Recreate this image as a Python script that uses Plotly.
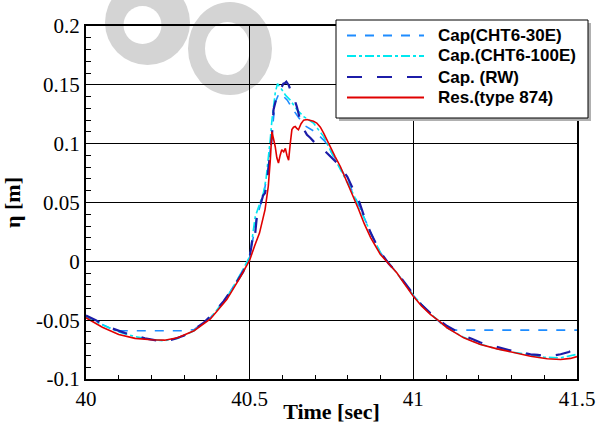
import plotly.graph_objects as go

# ---------------- data ----------------
t_res = [40.00, 40.05, 40.10, 40.15, 40.20, 40.24, 40.28, 40.33, 40.38, 40.43, 40.47, 40.50,
         40.515, 40.53, 40.547, 40.557, 40.563, 40.568, 40.573, 40.578, 40.583, 40.588, 40.593,
         40.598, 40.604, 40.609, 40.614, 40.619, 40.624, 40.629, 40.634, 40.639, 40.644, 40.649,
         40.657, 40.665, 40.675, 40.685, 40.695, 40.705, 40.716, 40.726, 40.736, 40.746, 40.761,
         40.777, 40.792, 40.807, 40.82, 40.833, 40.85, 40.87, 40.899, 40.925, 40.95, 40.975,
         41.00, 41.025, 41.052, 41.08, 41.103, 41.13, 41.154, 41.18, 41.205, 41.256, 41.307,
         41.358, 41.409, 41.45, 41.48, 41.50]
eta_res = [-0.048, -0.056, -0.0622, -0.0655, -0.0667, -0.067, -0.065, -0.059, -0.049, -0.0325,
           -0.014, 0.001, 0.013, 0.024, 0.044, 0.064, 0.086, 0.110, 0.104, 0.0976, 0.088, 0.0835,
           0.090, 0.0948, 0.093, 0.096, 0.090, 0.086, 0.100, 0.112, 0.114, 0.1146, 0.113, 0.1118,
           0.117, 0.120, 0.1205, 0.120, 0.119, 0.1175, 0.114, 0.109, 0.103, 0.0976, 0.089, 0.0806,
           0.071, 0.061, 0.052, 0.044, 0.032, 0.020, 0.006, -0.002, -0.0099, -0.020, -0.0297,
           -0.038, -0.045, -0.051, -0.0565, -0.061, -0.065, -0.068, -0.0707, -0.0744, -0.0778,
           -0.0806, -0.0828, -0.0834, -0.0825, -0.081]

t_rw = [40.00, 40.03, 40.06, 40.09, 40.12, 40.15, 40.18, 40.21, 40.24, 40.27, 40.30, 40.33, 40.36,
        40.39, 40.42, 40.45, 40.48, 40.50, 40.505, 40.512, 40.517, 40.522, 40.527, 40.535, 40.541,
        40.547, 40.552, 40.557, 40.563, 40.568, 40.573, 40.578, 40.583, 40.588, 40.593, 40.598,
        40.603, 40.608, 40.612, 40.616, 40.619, 40.624, 40.629, 40.634, 40.639, 40.644, 40.649,
        40.654, 40.664, 40.675, 40.685, 40.695, 40.705, 40.716, 40.726, 40.736, 40.751, 40.767,
        40.782, 40.798, 40.815, 40.833, 40.85, 40.87, 40.899, 40.925, 40.95, 40.975, 41.00,
        41.025, 41.052, 41.08, 41.103, 41.13, 41.154, 41.18, 41.205, 41.23, 41.256, 41.28,
        41.307, 41.33, 41.358, 41.38, 41.409, 41.43, 41.45, 41.475, 41.50]
eta_rw = [-0.046, -0.050, -0.055, -0.058, -0.061, -0.063, -0.0655, -0.067, -0.068, -0.066, -0.063,
          -0.058, -0.052, -0.044, -0.034, -0.022, -0.009, 0.004, 0.012, 0.027, 0.024, 0.038,
          0.047, 0.050, 0.056, 0.058, 0.066, 0.078, 0.095, 0.106, 0.129, 0.135, 0.140, 0.143,
          0.146, 0.1475, 0.151, 0.1515, 0.1527, 0.151, 0.150, 0.146, 0.144, 0.140, 0.136, 0.1315,
          0.126, 0.120, 0.113, 0.1075, 0.105, 0.102, 0.100, 0.0976, 0.095, 0.092, 0.088, 0.0835,
          0.078, 0.072, 0.062, 0.052, 0.038, 0.024, 0.008, -0.002, -0.0095, -0.019, -0.0285,
          -0.037, -0.044, -0.050, -0.055, -0.059, -0.063, -0.066, -0.069, -0.071, -0.073, -0.0745,
          -0.0764, -0.0775, -0.079, -0.0795, -0.0806, -0.080, -0.079, -0.077, -0.074]

t_100e = [40.00, 40.05, 40.10, 40.15, 40.20, 40.24, 40.28, 40.33, 40.38, 40.43, 40.47, 40.50,
          40.517, 40.53, 40.542, 40.55, 40.557, 40.563, 40.568, 40.573, 40.578, 40.585, 40.591,
          40.598, 40.61, 40.624, 40.644, 40.665, 40.695, 40.726, 40.756, 40.78, 40.81, 40.84,
          40.87, 40.90, 40.95, 41.00, 41.05, 41.10, 41.15, 41.20, 41.25, 41.30, 41.35, 41.40,
          41.45, 41.50]
eta_100e = [-0.047, -0.054, -0.060, -0.064, -0.0665, -0.0675, -0.0655, -0.059, -0.048, -0.031,
            -0.012, 0.004, 0.038, 0.048, 0.058, 0.070, 0.086, 0.104, 0.120, 0.133, 0.143, 0.151,
            0.149, 0.146, 0.141, 0.137, 0.129, 0.123, 0.1175, 0.106, 0.089, 0.077, 0.061, 0.043,
            0.024, 0.007, -0.010, -0.029, -0.044, -0.056, -0.064, -0.070, -0.074, -0.077,
            -0.0795, -0.0815, -0.082, -0.079]

t_30e = [40.00, 40.05, 40.09, 40.30, 40.33, 40.38, 40.43, 40.47, 40.50, 40.52, 40.545, 40.557,
         40.568, 40.578, 40.59, 40.60, 40.615, 40.63, 40.65, 40.67, 40.70, 40.73, 40.76, 40.79,
         40.82, 40.85, 40.88, 40.90, 40.95, 41.00, 41.05, 41.10, 41.12, 41.50]
eta_30e = [-0.047, -0.054, -0.059, -0.059, -0.058, -0.048, -0.031, -0.012, 0.003, 0.035, 0.060,
           0.080, 0.110, 0.135, 0.143, 0.141, 0.137, 0.130, 0.122, 0.115, 0.110, 0.102, 0.088,
           0.073, 0.056, 0.037, 0.018, 0.007, -0.010, -0.029, -0.044, -0.0565, -0.0585, -0.0585]

names = ["Cap(CHT6-30E)", "Cap.(CHT6-100E)", "Cap. (RW)", "Res.(type 874)"]

x_range = [40, 41.5]
y_range = [-0.1, 0.2]
x_tickvals = [40, 40.5, 41, 41.5]
x_ticktext = ["40", "40.5", "41", "41.5"]
y_tickvals = [-0.1, -0.05, 0, 0.05, 0.1, 0.15, 0.2]
y_ticktext = ["-0.1", "-0.05", "0", "0.05", "0.1", "0.15", "0.2"]
x_minor_step = 0.1
y_minor_step = 0.01

# ---------------- styles ----------------
W, H = 597, 424
ML, MR, MT, MB = 86, 20, 26, 45
PW, PH = W - ML - MR, H - MT - MB


def px_x(px):
    return (px - ML) / PW


def px_y(py):
    return (H - MB - py) / PH


styles = [
    dict(color="#1e8cff", width=1.6, dash="dash"),
    dict(color="#00e8f0", width=1.6, dash="dashdot"),
    dict(color="#1c1ca8", width=2.2, dash="longdash"),
    dict(color="#e00000", width=1.6, dash="solid"),
]

series = [(t_30e, eta_30e), (t_100e, eta_100e), (t_rw, eta_rw), (t_res, eta_res)]

fig = go.Figure()
for (tx, ey), nm, st in zip(series, names, styles):
    fig.add_trace(go.Scatter(x=tx, y=ey, name=nm, mode="lines", line=st, showlegend=False))

# empty trace binding the minor-tick overlay axes
fig.add_trace(go.Scatter(x=[None], y=[None], xaxis="x2", yaxis="y2", mode="lines",
                         showlegend=False, hoverinfo="skip"))

serif = "Liberation Serif, Times New Roman, serif"

axis_common = dict(
    showline=True, linecolor="black", linewidth=2, mirror=True,
    showgrid=True, gridcolor="black", gridwidth=1,
    zeroline=False, automargin=False,
    ticks="inside", ticklen=8, tickwidth=1, tickcolor="black",
    tickfont=dict(family=serif, size=21, color="black"),
)

minor_common = dict(
    showline=False, showgrid=False, zeroline=False, automargin=False,
    ticks="inside", tickwidth=1, tickcolor="black", showticklabels=False,
    tickmode="linear",
)

fig.update_layout(
    xaxis=dict(range=x_range, tickmode="array", tickvals=x_tickvals, ticktext=x_ticktext,
               title=dict(text="Time [sec]", standoff=0,
                          font=dict(family=serif, size=22, color="black", weight="bold")),
               **axis_common),
    yaxis=dict(range=y_range, tickmode="array", tickvals=y_tickvals, ticktext=y_ticktext,
               title=dict(text="η [m]", standoff=10,
                          font=dict(family=serif, size=22, color="black", weight="bold")),
               **axis_common),
    xaxis2=dict(minor_common, overlaying="x", anchor="y", side="bottom", range=x_range,
                tick0=x_range[0], dtick=x_minor_step, ticklen=4),
    yaxis2=dict(minor_common, overlaying="y", anchor="x", side="left", range=y_range,
                tick0=y_range[0], dtick=y_minor_step, ticklen=5),
)

# watermark rings (decorative): grey discs with white holes
ring_color = "#d4d4d4"
ring_boxes = [
    ((105, 190, -20, 65), ring_color),
    ((123.5, 161.5, 6, 44), "white"),
    ((188, 272, 2, 95), ring_color),
    ((205, 250, 22, 75), "white"),
]
for (bx0, bx1, by0, by1), col in ring_boxes:
    fig.add_shape(type="circle", xref="paper", yref="paper", layer="below",
                  x0=px_x(bx0), x1=px_x(bx1), y0=px_y(by1), y1=px_y(by0),
                  line=dict(width=0), fillcolor=col)

# legend box (drawn manually to match the long line samples)
LX0, LX1, LY0, LY1 = 336, 588, 20, 118
fig.add_shape(type="rect", xref="paper", yref="paper", layer="above",
              x0=px_x(LX0 + 3), x1=px_x(LX1 + 3), y0=px_y(LY1 + 3), y1=px_y(LY0 + 3),
              line=dict(width=0), fillcolor="#b0b0b0")
fig.add_shape(type="rect", xref="paper", yref="paper", layer="above",
              x0=px_x(LX0), x1=px_x(LX1), y0=px_y(LY1), y1=px_y(LY0),
              line=dict(color="black", width=1), fillcolor="white")
row_y = [35.5, 56.0, 77.0, 97.5]
for nm, st, ry in zip(names, styles, row_y):
    fig.add_shape(type="line", xref="paper", yref="paper", layer="above",
                  x0=px_x(347), x1=px_x(424), y0=px_y(ry), y1=px_y(ry),
                  line=dict(color=st["color"], width=2, dash=st["dash"]))
    fig.add_annotation(xref="paper", yref="paper", x=px_x(436), y=px_y(ry),
                       xanchor="left", yanchor="middle", showarrow=False, text=nm,
                       font=dict(family="Liberation Sans, Arial, sans-serif", size=17,
                                 color="black", weight="bold"))

fig.update_layout(
    width=W, height=H,
    margin=dict(l=ML, r=MR, t=MT, b=MB),
    paper_bgcolor="white", plot_bgcolor="rgba(0,0,0,0)",
    showlegend=False,
)

fig.write_html("out.html", config={"displayModeBar": False},
               post_script="document.body.style.margin='0px';document.body.style.padding='0px';")
